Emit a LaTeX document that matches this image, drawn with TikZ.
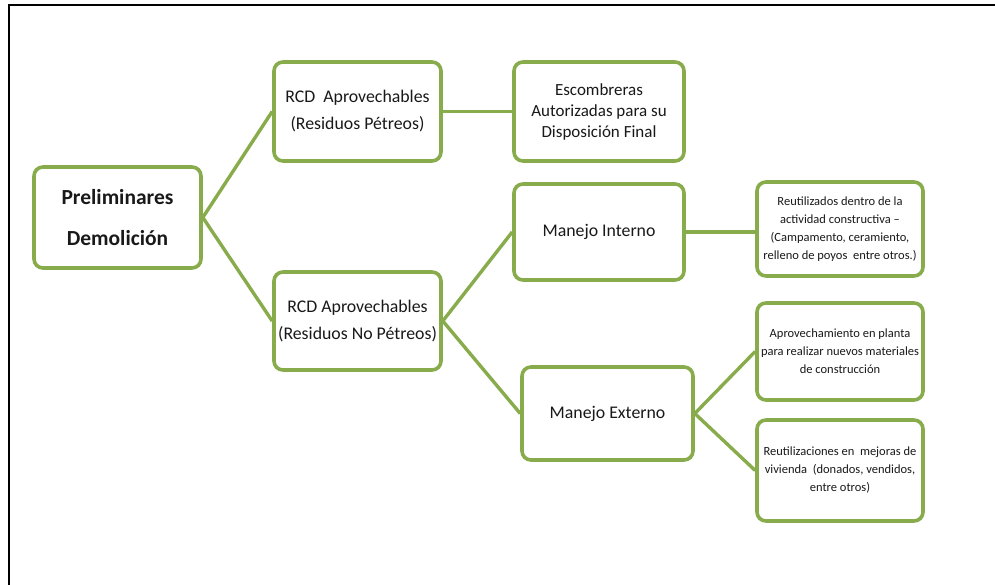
\documentclass[tikz,border=0pt]{standalone}
\usepackage{fontspec}
\setmainfont{Carlito}
\usepackage{xcolor}
\usepackage{tikz}
\usetikzlibrary{positioning}

\definecolor{hojaverde}{RGB}{136,172,76}
\definecolor{textogris}{RGB}{25,25,25}

\tikzset{
  caja/.style={draw=hojaverde, line width=3.6pt, rounded corners=9pt, fill=white,
    align=center, inner sep=2pt, text=textogris},
  grande/.style={caja, font=\fontsize{21.5}{41}\selectfont\bfseries},
  media/.style={caja, font=\fontsize{17.8}{27}\selectfont},
  escomb/.style={caja, font=\fontsize{17}{21}\selectfont},
  chica/.style={caja, font=\fontsize{12.5}{18}\selectfont},
  rama/.style={draw=hojaverde, line width=3.4pt}
}

\begin{document}
\begin{tikzpicture}[x=1pt, y=-1pt]
			\useasboundingbox (0,0) rectangle (995,585);

			% Frame
			\draw[line width=2pt, black] (9,585) -- (9,5) -- (995,5);

			% Boxes
			\node[grande, minimum width=167pt, minimum height=101pt] (prelim) at (117.5,217.5) {Preliminares\\Demolición};
			\node[media, minimum width=167pt, minimum height=99pt] (petreos) at (357.5,111.5) {RCD~ Aprovechables\\(Residuos Pétreos)};
			\node[escomb, minimum width=170pt, minimum height=99pt] (escombreras) at (599,111.5) {Escombreras\\Autorizadas para su\\Disposición Final};
			\node[media, minimum width=167pt, minimum height=98pt] (nopetreos) at (357.5,321) {RCD Aprovechables\\(Residuos No Pétreos)};
			\node[media, minimum width=170pt, minimum height=96pt] (interno) at (599,232) {Manejo Interno};
			\node[media, minimum width=171pt, minimum height=93pt] (externo) at (607.5,413.5) {Manejo Externo};
			\node[chica, minimum width=166pt, minimum height=94pt] (reutil) at (840,229) {Reutilizados dentro de la\\actividad constructiva --\\(Campamento, ceramiento,\\relleno de poyos~ entre otros.)};
			\node[chica, minimum width=166pt, minimum height=97pt] (aprov) at (840,351.5) {Aprovechamiento en planta\\para realizar nuevos materiales\\de construcción};
			\node[chica, minimum width=166pt, minimum height=101pt] (mejoras) at (840,470.5) {Reutilizaciones en~ mejoras de\\vivienda~ (donados, vendidos,\\entre otros)};

			% Branches
			\draw[rama] (prelim.east) -- (petreos.west);
			\draw[rama] (prelim.east) -- (nopetreos.west);
			\draw[rama] (petreos.east) -- (escombreras.west);
			\draw[rama] (nopetreos.east) -- (interno.west);
			\draw[rama] (nopetreos.east) -- (externo.west);
			\draw[rama] (interno.east) -- (reutil.west |- interno.east);
			\draw[rama] (externo.east) -- (aprov.west);
			\draw[rama] (externo.east) -- (mejoras.west);

		\end{tikzpicture}
\end{document}
